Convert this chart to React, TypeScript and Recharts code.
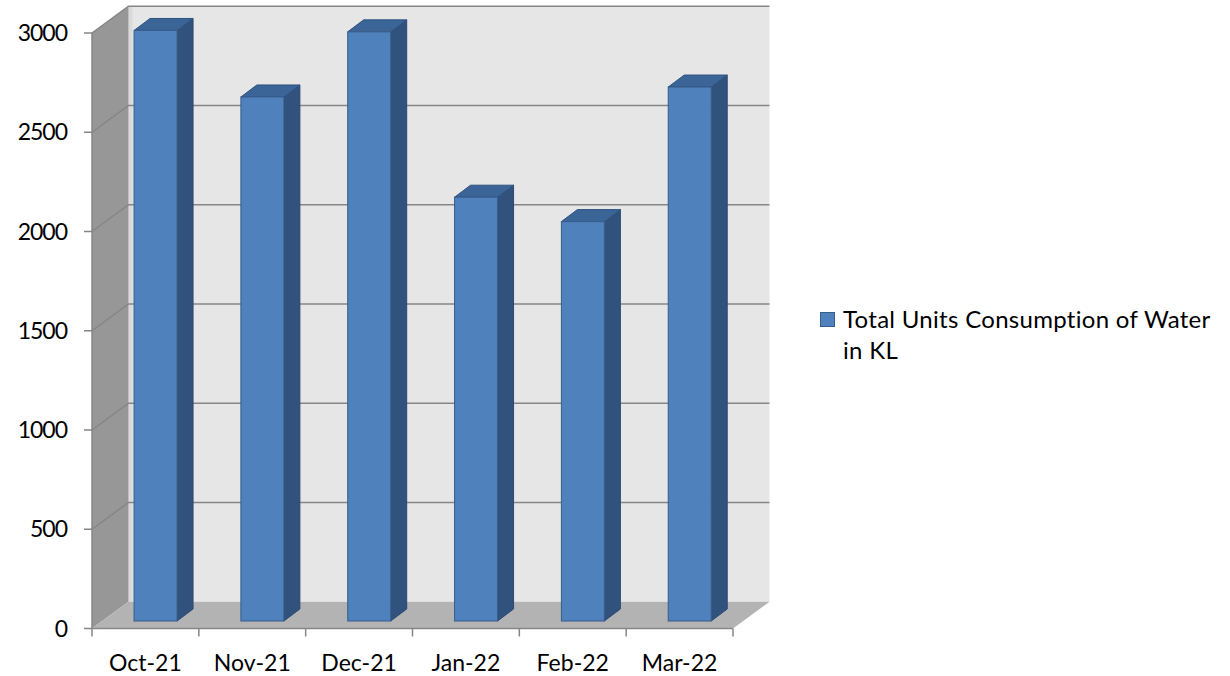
import { BarChart, Bar, XAxis, YAxis, ReferenceArea, ReferenceLine, Legend } from "recharts";

const months = ["Oct-21", "Nov-21", "Dec-21", "Jan-22", "Feb-22", "Mar-22"];
const waterKL = [2975, 2640, 2968, 2135, 2012, 2690];
const yTicks = [0, 500, 1000, 1500, 2000, 2500, 3000];
const gridValues = [500, 1000, 1500, 2000, 2500, 3000];
const seriesName = "Total Units Consumption of Water in KL";

const data = months.map((month, i) => ({ month, kl: waterKL[i] }));

// oblique 3D offsets (walls are pushed back, bars sit a little into the floor)
const WALL_DX = 36.5;
const WALL_DY = 26.8;
const BAR_DX = 10;
const BAR_DY = 7.5;
const BAR_DEPTH_X = 16;
const BAR_DEPTH_Y = 12;

const FONT = "Lato, 'Liberation Sans', sans-serif";
const AXIS_GRAY = "#868686";

function Walls(props: any) {
  const { x, y, width, height } = props;
  const l = x;
  const r = x + width;
  const t = y;
  const b = y + height;
  return (
    <g>
      <rect x={l + WALL_DX} y={t - WALL_DY} width={width} height={height} fill="#e6e6e6" />
      <rect x={l + WALL_DX} y={t - WALL_DY} width={4} height={height} fill="#dadada" />
      <polygon
        points={`${l},${t} ${l + WALL_DX},${t - WALL_DY} ${l + WALL_DX},${b - WALL_DY} ${l},${b}`}
        fill="#979797"
      />
      <polygon
        points={`${l},${b} ${l + WALL_DX},${b - WALL_DY} ${r + WALL_DX},${b - WALL_DY} ${r},${b}`}
        fill="#b3b3b3"
      />
    </g>
  );
}

function WallGridLine(props: any) {
  const { x1, y1, x2 } = props;
  const left = Math.min(x1, x2);
  const right = Math.max(x1, x2);
  return (
    <polyline
      points={`${left},${y1} ${left + WALL_DX},${y1 - WALL_DY} ${right + WALL_DX},${y1 - WALL_DY}`}
      fill="none"
      stroke={AXIS_GRAY}
      strokeWidth={1.5}
    />
  );
}

function Bar3D(props: any) {
  const { x, y, width, height } = props;
  const fx = x + BAR_DX;
  const fy = y - BAR_DY;
  const r = fx + width;
  const b = fy + height;
  const top = `${fx},${fy} ${fx + BAR_DEPTH_X},${fy - BAR_DEPTH_Y} ${r + BAR_DEPTH_X},${fy - BAR_DEPTH_Y} ${r},${fy}`;
  const side = `${r},${fy} ${r + BAR_DEPTH_X},${fy - BAR_DEPTH_Y} ${r + BAR_DEPTH_X},${b - BAR_DEPTH_Y} ${r},${b}`;
  return (
    <g>
      <polygon points={side} fill="#31527d" stroke="#2b4a72" strokeWidth={1} />
      <polygon points={top} fill="#3b6497" stroke="#2f5380" strokeWidth={1} />
      <rect x={fx} y={fy} width={width} height={height} fill="#4f81bd" stroke="#385d8a" strokeWidth={1} />
    </g>
  );
}

// category labels centred, tick marks on the category boundaries
function MonthTick(props: any) {
  const { x, y, payload, index } = props;
  const half = payload?.offset ?? 0;
  const axisY = y - 18;
  return (
    <g>
      <line x1={x - half} y1={axisY} x2={x - half} y2={axisY + 8} stroke={AXIS_GRAY} strokeWidth={1.5} />
      {index === months.length - 1 && (
        <line x1={x + half} y1={axisY} x2={x + half} y2={axisY + 8} stroke={AXIS_GRAY} strokeWidth={1.5} />
      )}
      <text x={x} y={axisY + 42.5} textAnchor="middle" fontFamily={FONT} fontSize={23} fill="#000">
        {payload.value}
      </text>
    </g>
  );
}

function LegendBox() {
  return (
    <div style={{ display: "flex", alignItems: "flex-start", fontFamily: FONT, fontSize: 24, lineHeight: "31px", color: "#000" }}>
      <span
        style={{
          display: "inline-block",
          width: 13,
          height: 13,
          marginTop: 9,
          marginRight: 8,
          background: "#4f81bd",
          border: "1px solid #385d8a",
          flex: "none",
        }}
      />
      <span style={{ width: 368, letterSpacing: 0.3 }}>{seriesName}</span>
    </div>
  );
}

export default function App() {
  return (
    <div style={{ position: "relative", width: 1230, height: 676, background: "#fff" }}>
      <style>{`body{margin:0}`}</style>
      <BarChart
        width={1230}
        height={676}
        data={data}
        margin={{ top: 33, right: 497, bottom: 0, left: 0 }}
        barCategoryGap="30%"
      >
        <ReferenceArea y1={0} y2={3000} shape={<Walls />} zIndex={-300} ifOverflow="visible" />
        {gridValues.map((v) => (
          <ReferenceLine key={v} y={v} shape={<WallGridLine />} zIndex={-200} />
        ))}
        <XAxis
          dataKey="month"
          height={47.5}
          axisLine={{ stroke: AXIS_GRAY, strokeWidth: 1.5 }}
          tickLine={false}
          tickSize={0}
          tickMargin={18}
          interval={0}
          tick={<MonthTick />}
        />
        <YAxis
          width={92}
          domain={[0, 3000]}
          ticks={yTicks}
          interval={0}
          axisLine={{ stroke: AXIS_GRAY, strokeWidth: 1.5 }}
          tickLine={{ stroke: AXIS_GRAY, strokeWidth: 1.5 }}
          tickSize={8}
          tickMargin={17}
          tick={{ fontFamily: FONT, fontSize: 23, fill: "#000", letterSpacing: -1 }}
        />
        <Legend
          layout="vertical"
          align="center"
          verticalAlign="middle"
          wrapperStyle={{ left: 820, top: 303, width: 400 }}
          content={() => <LegendBox />}
        />
        <Bar dataKey="kl" name={seriesName} shape={<Bar3D />} isAnimationActive={false} />
      </BarChart>
    </div>
  );
}
